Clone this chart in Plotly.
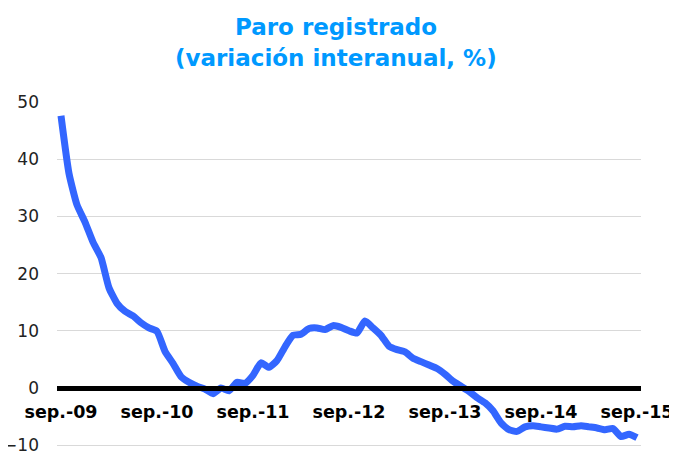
import plotly.graph_objects as go

# monthly index from sep.-09 to sep.-15
x_idx = list(range(73))

values = [
    47.6, 37.5, 32.0, 29.0, 25.5, 22.8, 17.5, 14.8, 13.4, 12.6, 11.4, 10.5,
    9.9, 6.4, 4.3, 2.0, 1.0, 0.3, -0.2, -1.0, 0.0, -0.5, 1.0, 0.8,
    2.2, 4.4, 3.6, 4.8, 7.2, 9.2, 9.4, 10.4, 10.5, 10.2, 10.9, 10.6,
    10.0, 9.6, 11.7, 10.5, 9.2, 7.3, 6.7, 6.3, 5.2, 4.6, 4.0, 3.4,
    2.4, 1.2, 0.3, -0.6, -1.7, -2.6, -4.0, -6.1, -7.3, -7.6, -6.8, -6.6,
    -6.8, -7.0, -7.2, -6.7, -6.8, -6.6, -6.8, -7.0, -7.3, -7.1, -8.5, -8.1,
    -8.7,
]

tick_pos = [0, 12, 24, 36, 48, 60, 72]
tick_labels = ["sep.-09", "sep.-10", "sep.-11", "sep.-12", "sep.-13", "sep.-14", "sep.-15"]
y_ticks = [-10, 0, 10, 20, 30, 40, 50]

title_line1 = "Paro registrado"
title_line2 = "(variación interanual, %)"

Y_MIN, Y_MAX = -10.5, 50.0
PX_PER_UNIT = 5.725
PLOT_H = (Y_MAX - Y_MIN) * PX_PER_UNIT

fig = go.Figure()
fig.add_trace(go.Scatter(
    x=x_idx, y=values, mode="lines",
    line=dict(color="#3366FF", width=7, shape="spline", smoothing=0.5),
    showlegend=False, hoverinfo="skip",
))

# page has an 8px body margin; figure is sized/offset to compensate
title_font = dict(family="DejaVu Sans", size=23, color="#0099FF", weight="bold")
fig.add_annotation(text=title_line1, xref="paper", yref="paper", x=0.477, y=1 + (102 - 27) / PLOT_H,
                   xanchor="center", yanchor="middle", showarrow=False, font=title_font)
fig.add_annotation(text=title_line2, xref="paper", yref="paper", x=0.477, y=1 + (102 - 58) / PLOT_H,
                   xanchor="center", yanchor="middle", showarrow=False, font=title_font)

fig.update_layout(
    width=669, height=443,
    margin=dict(l=49, r=36, t=94, b=443 - 94 - round(PLOT_H), autoexpand=False),
    paper_bgcolor="white", plot_bgcolor="white",
    xaxis=dict(
        range=[-0.5, 72.5],
        tickmode="array", tickvals=tick_pos, ticktext=tick_labels,
        tickfont=dict(family="DejaVu Sans", size=17.5, color="black", weight="bold"),
        showgrid=False, zeroline=False,
        showline=True, linecolor="black", linewidth=4.5,
        anchor="free", position=(0 - Y_MIN) / (Y_MAX - Y_MIN),
        ticks="", ticklabelstandoff=6, automargin=False,
        ticklabeloverflow="allow",
    ),
    yaxis=dict(
        range=[Y_MIN, Y_MAX],
        tickmode="array", tickvals=y_ticks,
        tickfont=dict(family="DejaVu Sans", size=17, color="#222222"),
        showgrid=True, gridcolor="#D9D9D9", gridwidth=1,
        zeroline=False, showline=False,
        ticks="", ticklabelstandoff=17, automargin=False,
        ticklabeloverflow="allow",
    ),
)

fig.write_html("out.html")
